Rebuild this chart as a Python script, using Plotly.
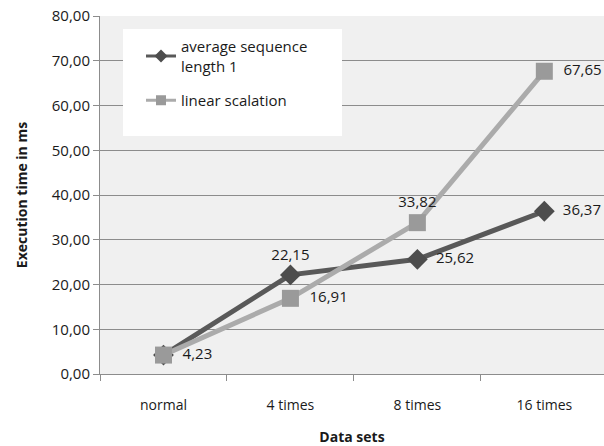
import plotly.graph_objects as go

categories = ["normal", "4 times", "8 times", "16 times"]
avg_seq = [4.23, 22.15, 25.62, 36.37]
linear = [4.23, 16.91, 33.82, 67.65]
avg_labels = ["", "22,15", "25,62", "36,37"]
lin_labels = ["4,23", "16,91", "33,82", "67,65"]
y_ticks = [0, 10, 20, 30, 40, 50, 60, 70, 80]
y_ticktext = ["0,00", "10,00", "20,00", "30,00", "40,00", "50,00", "60,00", "70,00", "80,00"]

FONT = "Open Sans"
DARK = "#595959"
LIGHT = "#ababab"
fig = go.Figure()
fig.add_trace(go.Scatter(
    x=categories, y=avg_seq, name="average sequence<br>length 1",
    mode="lines+markers+text", showlegend=False,
    line=dict(color=DARK, width=5),
    marker=dict(symbol="diamond", size=16, color="#4d4d4d"),
    text=avg_labels,
    textposition=["middle right", "top center", "middle right", "middle right"],
    textfont=dict(size=15, color="#1a1a1a", family=FONT),
))
fig.add_trace(go.Scatter(
    x=categories, y=linear, name="linear scalation",
    mode="lines+markers+text", showlegend=False,
    line=dict(color=LIGHT, width=5),
    marker=dict(symbol="square", size=17, color="#9a9a9a"),
    text=lin_labels,
    textposition=["middle right", "middle right", "top center", "middle right"],
    textfont=dict(size=15, color="#1a1a1a", family=FONT),
))
for tr in fig.data:
    tr.text = tuple("\u2002" + t if t and "right" in p else t for t, p in zip(tr.text, tr.textposition))

# legend-only entries with smaller symbols
fig.add_trace(go.Scatter(
    x=[None], y=[None], name="average sequence<br>length 1", mode="lines+markers",
    line=dict(color=DARK, width=3), marker=dict(symbol="diamond", size=10, color="#4d4d4d"),
    legendgroup="a",
))
fig.add_trace(go.Scatter(
    x=[None], y=[None], name="linear scalation", mode="lines+markers",
    line=dict(color=LIGHT, width=3), marker=dict(symbol="square", size=10, color="#9a9a9a"),
    legendgroup="b",
))

fig.add_shape(type="rect", xref="paper", yref="paper", layer="above",
              x0=(123 - 100) / 504, x1=(342 - 100) / 504,
              y0=1 - (136 - 16) / 358, y1=1 - (29 - 16) / 358,
              fillcolor="white", line=dict(width=0))

fig.update_layout(
    width=604, height=446,
    margin=dict(l=100, r=0, t=16, b=72),
    paper_bgcolor="white",
    plot_bgcolor="#f0f0f0",
    font=dict(family=FONT, size=15, color="#1a1a1a"),
    showlegend=True,
    legend=dict(
        x=(141 - 100) / 504, y=1 - (30 - 16) / 358, xanchor="left", yanchor="top",
        bgcolor="rgba(0,0,0,0)", borderwidth=0,
        font=dict(size=15, family=FONT, color="#1a1a1a"),
        tracegroupgap=12,
    ),
    xaxis=dict(
        range=[-0.5, 3.47], showgrid=False, showline=True, linecolor="#8c8c8c", linewidth=1,
        ticks="outside", ticklen=6, tickcolor="#8c8c8c",
        tickson="boundaries", ticklabelstandoff=18,
        tickfont=dict(size=14, family=FONT, color="#1a1a1a"),
        title=dict(text="<b>Data sets</b>", font=dict(size=14, family=FONT), standoff=20),
    ),
    yaxis=dict(
        range=[0, 80], tickvals=y_ticks, ticktext=y_ticktext,
        showgrid=True, gridcolor="#8c8c8c", gridwidth=1,
        showline=True, linecolor="#8c8c8c", linewidth=1,
        ticks="outside", ticklen=6, tickcolor="#8c8c8c",
        tickfont=dict(size=15, family=FONT, color="#1a1a1a"),
        title=dict(text="<b>Execution time in ms</b>", font=dict(size=14, family=FONT), standoff=20),
        zeroline=False,
    ),
)
fig.write_html("out.html")
